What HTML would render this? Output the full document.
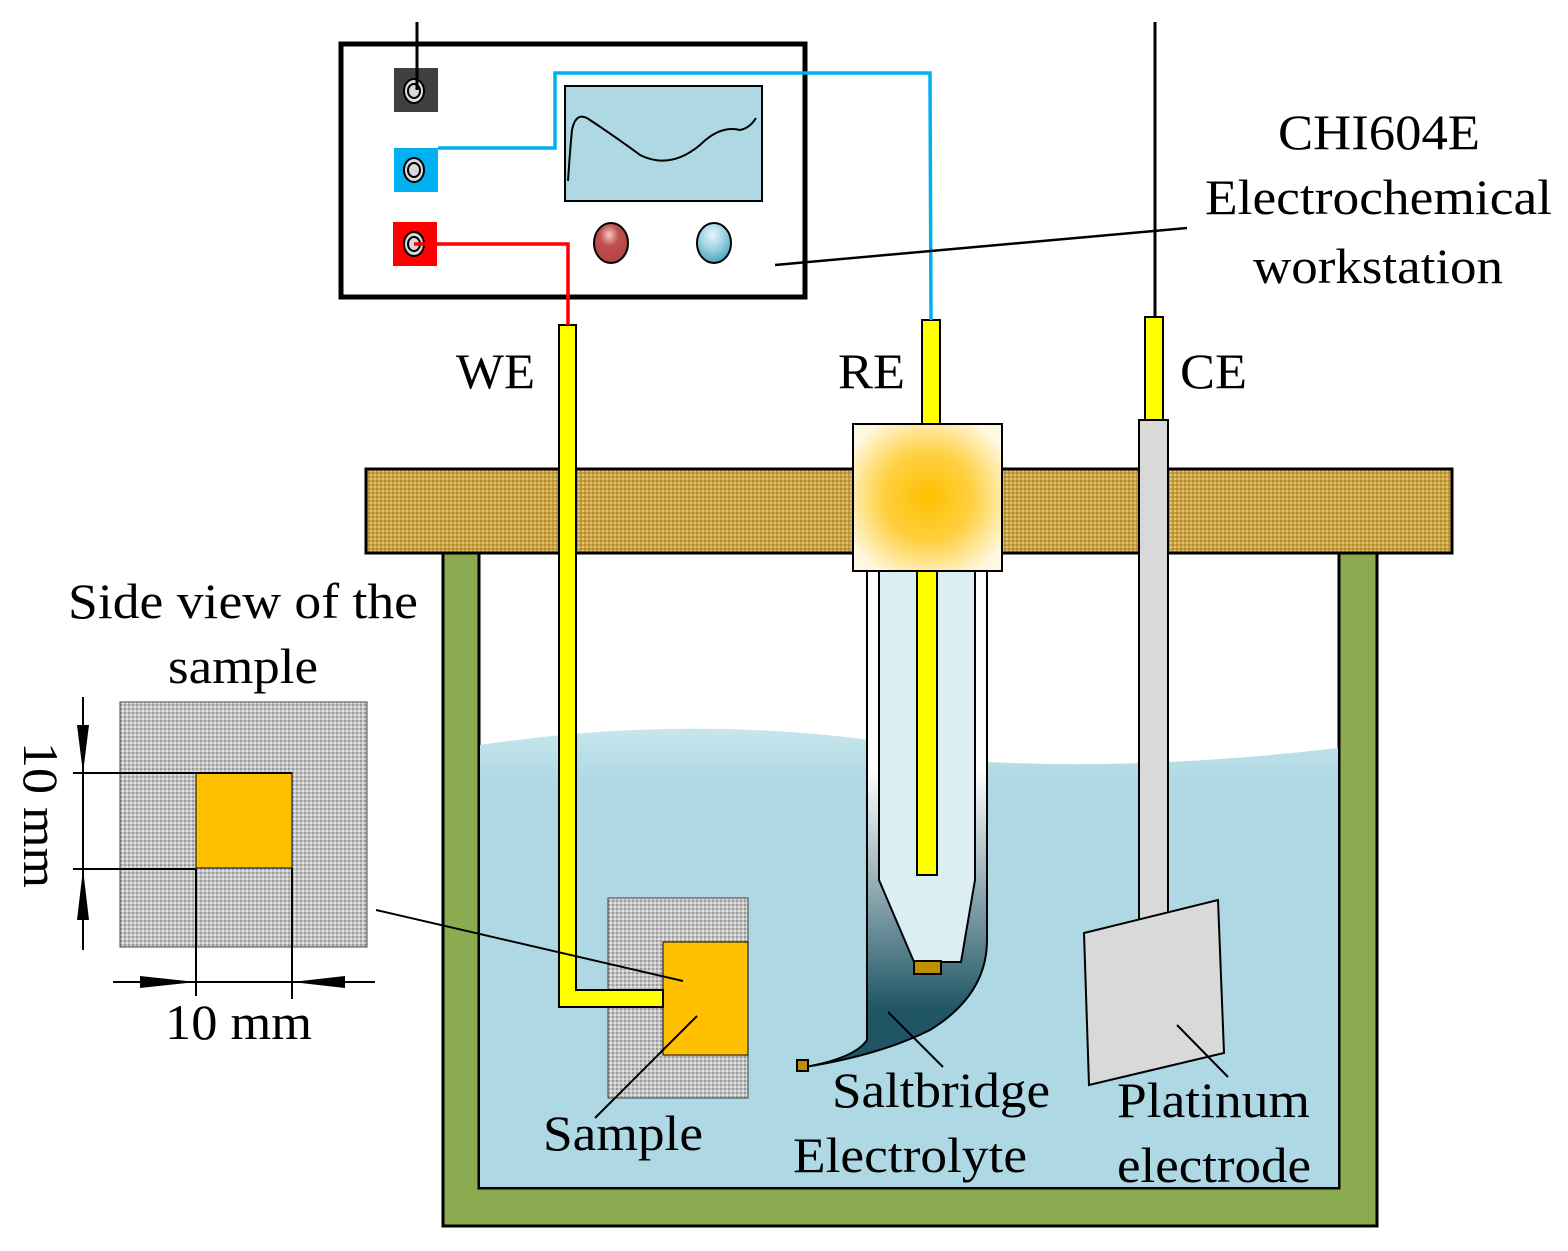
<!DOCTYPE html>
<html><head><meta charset="utf-8"><style>html,body{margin:0;padding:0;background:#fff}svg{display:block}text{font-family:"Liberation Serif",serif;font-size:50px;fill:#000}</style></head><body>
<svg width="1568" height="1251" viewBox="0 0 1568 1251" xmlns="http://www.w3.org/2000/svg">
<defs>
<radialGradient id="cap" cx="0.5" cy="0.5" r="0.6"><stop offset="0" stop-color="#ffc000"/><stop offset="0.5" stop-color="#ffd040"/><stop offset="1" stop-color="#fff8e0"/></radialGradient>
<linearGradient id="water" x1="0" y1="0" x2="0" y2="1"><stop offset="0" stop-color="#c8e6ec"/><stop offset="0.12" stop-color="#add8e4"/><stop offset="1" stop-color="#add8e4"/></linearGradient>
<linearGradient id="salt" gradientUnits="userSpaceOnUse" x1="0" y1="770" x2="0" y2="1010"><stop offset="0" stop-color="#ffffff"/><stop offset="1" stop-color="#1f5565"/></linearGradient>
<radialGradient id="rb" cx="0.45" cy="0.3" r="0.7"><stop offset="0" stop-color="#f5c8c8"/><stop offset="0.4" stop-color="#c0504d"/><stop offset="1" stop-color="#b04440"/></radialGradient>
<radialGradient id="bb" cx="0.45" cy="0.3" r="0.7"><stop offset="0" stop-color="#e8f6fa"/><stop offset="0.5" stop-color="#9fd3e3"/><stop offset="1" stop-color="#4aa5c0"/></radialGradient>
<pattern id="grain" width="4" height="4" patternUnits="userSpaceOnUse"><rect width="4" height="4" fill="#c8a040"/><rect width="2" height="2" fill="#b88f20"/><rect x="2" y="2" width="2" height="2" fill="#dcc080"/></pattern>
<pattern id="gray" width="4" height="4" patternUnits="userSpaceOnUse"><rect width="4" height="4" fill="#c4c4c4"/><rect width="2" height="2" fill="#9a9a9a"/><rect x="2" y="2" width="2" height="2" fill="#e0e0e0"/></pattern>
</defs>

<path d="M443,553 H479 V1188 H1339 V553 H1377 V1226 H443 Z" fill="#8aab50" stroke="#000" stroke-width="3"/>
<path d="M480,745 Q680,715 870,740 L987,762 Q1150,770 1338,748 V1187 H480 Z" fill="url(#water)"/>

<rect x="366" y="469" width="1086" height="84" fill="url(#grain)" stroke="#000" stroke-width="3"/>

<rect x="867" y="571" width="120" height="300" fill="#fff" stroke="#000" stroke-width="2"/>
<path d="M867,571 V1040 Q855,1058 805,1067 Q880,1055 930,1030 Q987,995 987,940 V571 Z" fill="url(#salt)" stroke="#000" stroke-width="2"/>
<path d="M879,571 V880 L914,962 H961 L975,880 V571 Z" fill="#daeef3" stroke="#000" stroke-width="2"/>
<rect x="917" y="571" width="20" height="304" fill="#ff0" stroke="#000" stroke-width="2"/>
<rect x="914" y="961" width="27" height="13" fill="#bf8f00" stroke="#000" stroke-width="2"/>
<rect x="797" y="1060" width="11" height="11" fill="#bf8f00" stroke="#000" stroke-width="2"/>
<rect x="853" y="424" width="149" height="147" fill="url(#cap)" stroke="#000" stroke-width="2"/>
<rect x="922" y="320" width="18" height="104" fill="#ff0" stroke="#000" stroke-width="2"/>

<line x1="1155" y1="22" x2="1155" y2="318" stroke="#000" stroke-width="3"/>
<rect x="1145" y="317" width="18" height="103" fill="#ff0" stroke="#000" stroke-width="2"/>
<rect x="1139" y="420" width="29" height="500" fill="#d9d9d9" stroke="#000" stroke-width="2"/>
<polygon points="1084,933 1218,900 1224,1053 1089,1085" fill="#d9d9d9" stroke="#000" stroke-width="2"/>

<rect x="608" y="898" width="140" height="200" fill="url(#gray)" stroke="#444" stroke-width="1"/>
<rect x="663" y="942" width="85" height="113" fill="#ffc000" stroke="#000" stroke-width="1"/>
<path d="M559,325 V1007 H663 V990 H576 V325 Z" fill="#ff0" stroke="#000" stroke-width="2"/>

<rect x="341" y="44" width="464" height="253" fill="none" stroke="#000" stroke-width="5"/>
<rect x="565" y="86" width="197" height="115" fill="#add8e4" stroke="#000" stroke-width="2"/>
<path d="M568,181 Q570,150 572,130 Q576,110 590,120 Q620,140 640,155 Q670,170 700,145 Q720,125 740,130 Q750,128 756,118" fill="none" stroke="#000" stroke-width="2"/>
<ellipse cx="611" cy="243" rx="17" ry="20" fill="url(#rb)" stroke="#000" stroke-width="2"/>
<ellipse cx="714" cy="243" rx="17" ry="20" fill="url(#bb)" stroke="#000" stroke-width="2"/>
<rect x="394" y="68" width="44" height="44" fill="#404040"/>
<rect x="394" y="148" width="44" height="44" fill="#00b0f0"/>
<rect x="393" y="222" width="44" height="44" fill="#f00"/>
<g fill="#d9d9d9" stroke="#000" stroke-width="2">
<ellipse cx="414" cy="91" rx="10" ry="12"/><ellipse cx="414" cy="91" rx="6" ry="7"/>
<ellipse cx="414" cy="170" rx="10" ry="12"/><ellipse cx="414" cy="170" rx="6" ry="7"/>
<ellipse cx="414" cy="244" rx="10" ry="12"/><ellipse cx="414" cy="244" rx="6" ry="7"/>
</g>
<line x1="417" y1="22" x2="417" y2="90" stroke="#000" stroke-width="3"/>
<polyline points="438,148 555,148 555,73 930,73 931,320" fill="none" stroke="#00b0f0" stroke-width="3.5"/>
<polyline points="414,244 568,244 568,325" fill="none" stroke="#f00" stroke-width="3.5"/>
<line x1="775" y1="265" x2="1187" y2="228" stroke="#000" stroke-width="2.5"/>

<rect x="120" y="702" width="247" height="245" fill="url(#gray)" stroke="#444" stroke-width="1"/>
<rect x="196" y="773" width="96" height="95" fill="#ffc000" stroke="#000" stroke-width="1"/>
<g stroke="#000" stroke-width="2" fill="none">
<line x1="83" y1="697" x2="83" y2="950"/>
<line x1="73" y1="773" x2="292" y2="773"/>
<line x1="73" y1="869" x2="196" y2="869"/>
<line x1="196" y1="869" x2="196" y2="996"/>
<line x1="292" y1="868" x2="292" y2="999"/>
<line x1="113" y1="982" x2="375" y2="982"/>
<line x1="376" y1="910" x2="683" y2="981"/>
<line x1="595" y1="1118" x2="697" y2="1016"/>
<line x1="888" y1="1012" x2="943" y2="1067"/>
<line x1="1177" y1="1025" x2="1228" y2="1077"/>
</g>
<g fill="#000">
<polygon points="77,725 89,725 83,773"/>
<polygon points="77,920 89,920 83,869"/>
<polygon points="140,976 140,988 196,982"/>
<polygon points="345,976 345,988 292,982"/>
</g>

<g>
<text x="1278" y="149" textLength="202" lengthAdjust="spacingAndGlyphs">CHI604E</text>
<text x="1205" y="214" textLength="347" lengthAdjust="spacingAndGlyphs">Electrochemical</text>
<text x="1253" y="283" textLength="250" lengthAdjust="spacingAndGlyphs">workstation</text>
<text x="456" y="388" textLength="79" lengthAdjust="spacingAndGlyphs">WE</text>
<text x="838" y="388" textLength="67" lengthAdjust="spacingAndGlyphs">RE</text>
<text x="1180" y="388" textLength="67" lengthAdjust="spacingAndGlyphs">CE</text>
<text x="68" y="618" textLength="350" lengthAdjust="spacingAndGlyphs">Side view of the</text>
<text x="168" y="683" textLength="150" lengthAdjust="spacingAndGlyphs">sample</text>
<text x="165" y="1039" textLength="147" lengthAdjust="spacingAndGlyphs">10 mm</text>
<text x="0" y="0" textLength="146" lengthAdjust="spacingAndGlyphs" transform="translate(24,742) rotate(90)">10 mm</text>
<text x="543" y="1150" textLength="160" lengthAdjust="spacingAndGlyphs">Sample</text>
<text x="832" y="1107" textLength="218" lengthAdjust="spacingAndGlyphs">Saltbridge</text>
<text x="793" y="1172" textLength="234" lengthAdjust="spacingAndGlyphs">Electrolyte</text>
<text x="1117" y="1117" textLength="193" lengthAdjust="spacingAndGlyphs">Platinum</text>
<text x="1117" y="1182" textLength="194" lengthAdjust="spacingAndGlyphs">electrode</text>
</g>
</svg>
</body></html>
